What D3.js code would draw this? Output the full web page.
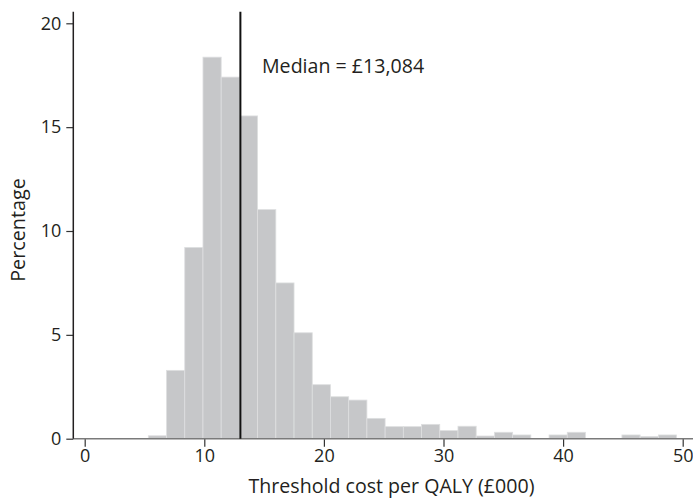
<!DOCTYPE html>
<html>
<head>
<meta charset="utf-8">
<script src="https://cdn.jsdelivr.net/npm/d3@7"></script>
<style>
  html, body { margin: 0; padding: 0; background: #fff; }
  svg { display: block; }
  text { font-family: "Open Sans", "Noto Sans", sans-serif; fill: #231f20; }
</style>
</head>
<body>
<svg id="chart" width="693" height="499"></svg>
<script>
// ---- data ----
const binStart = 5.32;      // £000, lower edge of first bin
const binWidth = 1.523;     // £000
const percentages = [0.14, 3.29, 9.21, 18.37, 17.41, 15.54, 11.03, 7.50, 5.10, 2.60,
                     2.02, 1.86, 0.98, 0.58, 0.58, 0.69, 0.39, 0.60, 0.13, 0.31,
                     0.18, 0, 0.18, 0.31, 0, 0, 0.18, 0.11, 0.18];
const xTicks = [0, 10, 20, 30, 40, 50];
const yTicks = [0, 5, 10, 15, 20];
const median = 13.084;
const medianLabel = "Median = £13,084";
const xTitle = "Threshold cost per QALY (£000)";
const yTitle = "Percentage";

const bins = percentages.map((p, i) => ({ x0: binStart + i * binWidth, x1: binStart + (i + 1) * binWidth, p }));

// ---- layout ----
const svg = d3.select("#chart");
const x = d3.scaleLinear().domain([0, 50]).range([84.7, 682.7]);
const y = d3.scaleLinear().domain([0, 20]).range([438.7, 23.3]);
const axisX = 73.3;
const topY = 11.7;

// bars
svg.append("g").selectAll("rect").data(bins).enter().append("rect")
  .attr("x", d => x(d.x0))
  .attr("width", d => x(d.x1) - x(d.x0))
  .attr("y", d => y(d.p))
  .attr("height", d => y(0) - y(d.p))
  .attr("fill", "#c6c7c9")
  .attr("stroke", "#dedfe0")
  .attr("stroke-width", 0.8);

// x axis
const gx = svg.append("g").attr("transform", `translate(0,${y(0)})`)
  .call(d3.axisBottom(x).tickValues(xTicks).tickSize(8).tickPadding(3).tickSizeOuter(0));
gx.select(".domain").remove();
gx.append("line").attr("x1", axisX).attr("x2", 693).attr("y1", 0).attr("y2", 0)
  .attr("stroke", "#7a7a7a").attr("stroke-width", 1.6);
gx.selectAll(".tick line").attr("stroke", "#333").attr("stroke-width", 1.2);
gx.selectAll(".tick text").attr("font-size", 18).attr("fill", "#231f20")
  .style("font-family", '"Open Sans", sans-serif');

// y axis
const gy = svg.append("g").attr("transform", `translate(${axisX},0)`)
  .call(d3.axisLeft(y).tickValues(yTicks).tickSize(7).tickPadding(5).tickSizeOuter(0));
gy.select(".domain").remove();
gy.append("line").attr("x1", 0).attr("x2", 0).attr("y1", topY).attr("y2", y(0))
  .attr("stroke", "#231f20").attr("stroke-width", 1.5);
gy.selectAll(".tick line").attr("stroke", "#333").attr("stroke-width", 1.2);
gy.selectAll(".tick text").attr("font-size", 18).attr("fill", "#231f20")
  .style("font-family", '"Open Sans", sans-serif');

// median line
svg.append("line")
  .attr("x1", x(median) - 0.8).attr("x2", x(median) - 0.8)
  .attr("y1", topY).attr("y2", y(0))
  .attr("stroke", "#111").attr("stroke-width", 2);

svg.append("text").attr("x", 262).attr("y", 72.5)
  .attr("font-size", 19.6).text(medianLabel);

// titles
svg.append("text").attr("x", 391.5).attr("y", 493).attr("text-anchor", "middle")
  .attr("font-size", 19.6).text(xTitle);
svg.append("text").attr("transform", "translate(25,230) rotate(-90)")
  .attr("text-anchor", "middle").attr("font-size", 19.8).text(yTitle);
</script>
</body>
</html>
